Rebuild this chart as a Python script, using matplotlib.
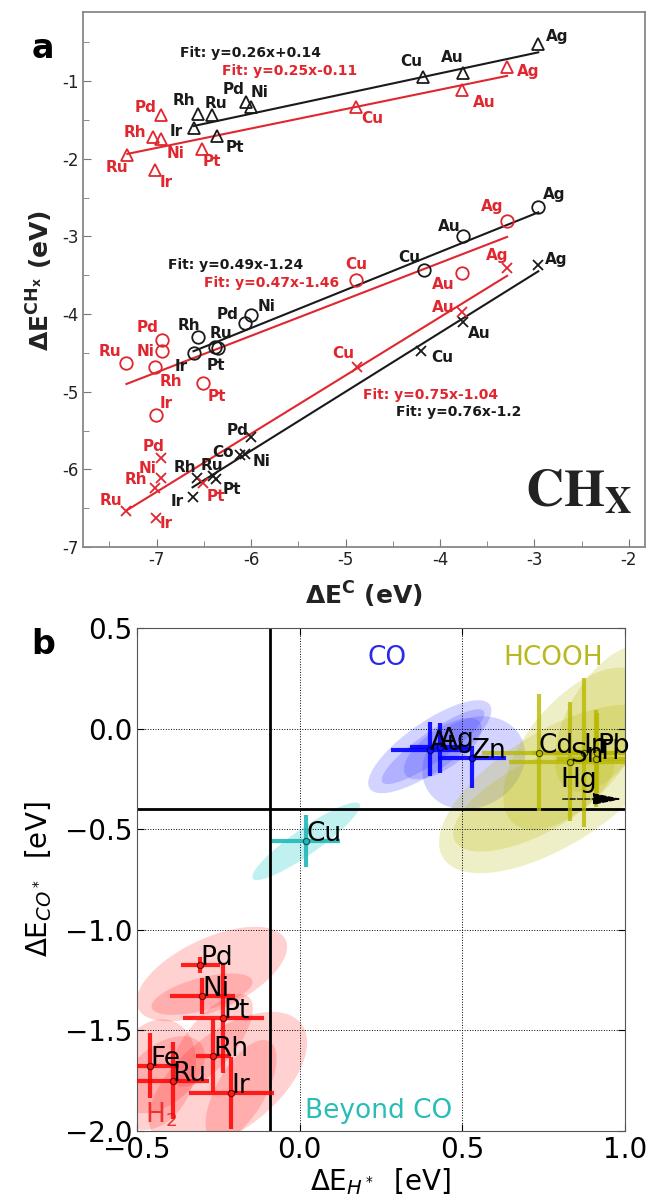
import numpy as np
import matplotlib
matplotlib.use('Agg')
import matplotlib.pyplot as plt
from matplotlib.ticker import MultipleLocator, FuncFormatter

RED = '#e0262e'
BLACK = '#1a1a1a'

# ---------------- panel a: CHx adsorption energies vs C ----------------
tri_blk_names = ['Ag', 'Au', 'Cu', 'Ni', 'Pd', 'Ru', 'Rh', 'Ir', 'Pt']
tri_blk_x = [-2.96, -3.76, -4.18, -6.00, -6.05, -6.41, -6.56, -6.61, -6.36]
tri_blk_y = [-0.52, -0.90, -0.95, -1.33, -1.27, -1.44, -1.42, -1.61, -1.71]

tri_red_names = ['Ag', 'Au', 'Cu', 'Pd', 'Rh', 'Ni', 'Pt', 'Ru', 'Ir']
tri_red_x = [-3.29, -3.77, -4.89, -6.95, -7.04, -6.95, -6.52, -7.31, -7.02]
tri_red_y = [-0.82, -1.12, -1.33, -1.44, -1.72, -1.75, -1.87, -1.95, -2.14]

cir_blk_names = ['Ag', 'Au', 'Cu', 'Ni', 'Pd', 'Rh', 'Ru', 'Pt', 'Ir']
cir_blk_x = [-2.96, -3.76, -4.17, -6.00, -6.06, -6.56, -6.38, -6.35, -6.61]
cir_blk_y = [-2.62, -3.00, -3.43, -4.01, -4.11, -4.29, -4.42, -4.44, -4.50]

cir_red_names = ['Ag', 'Au', 'Cu', 'Pd', 'Ni', 'Ru', 'Rh', 'Pt', 'Ir']
cir_red_x = [-3.29, -3.77, -4.89, -6.94, -6.94, -7.32, -7.02, -6.51, -7.01]
cir_red_y = [-2.80, -3.47, -3.56, -4.34, -4.48, -4.63, -4.68, -4.89, -5.30]

crs_blk_names = ['Ag', 'Au', 'Cu', 'Pd', 'Co', 'Ni', 'Rh', 'Ru', 'Pt', 'Ir']
crs_blk_x = [-2.96, -3.76, -4.20, -6.00, -6.12, -6.06, -6.57, -6.40, -6.37, -6.62]
crs_blk_y = [-3.37, -4.10, -4.48, -5.58, -5.82, -5.80, -6.11, -6.09, -6.12, -6.35]

crs_red_names = ['Ag', 'Au', 'Cu', 'Pd', 'Ni', 'Rh', 'Pt', 'Ru', 'Ir']
crs_red_x = [-3.29, -3.77, -4.88, -6.95, -6.95, -7.02, -6.51, -7.32, -7.01]
crs_red_y = [-3.41, -3.97, -4.68, -5.86, -6.11, -6.24, -6.18, -6.54, -6.63]

# linear fits (slope, intercept) in the same order as the series below
fit_slope = [0.26, 0.25, 0.49, 0.47, 0.76, 0.75]
fit_icpt = [0.14, -0.11, -1.24, -1.46, -1.2, -1.04]

# ---------------- panel b: H* vs CO* descriptor map ----------------
h2_names = ['Pd', 'Ni', 'Pt', 'Rh', 'Fe', 'Ru', 'Ir']
h2_x = [-0.305, -0.30, -0.235, -0.265, -0.46, -0.39, -0.21]
h2_y = [-1.175, -1.33, -1.44, -1.625, -1.675, -1.75, -1.81]
h2_xerr = [0.06, 0.10, 0.125, 0.055, 0.09, 0.11, 0.13]
h2_yerr = [0.04, 0.09, 0.27, 0.18, 0.16, 0.19, 0.18]

co_names = ['Au', 'Ag', 'Zn']
co_x = [0.40, 0.43, 0.53]
co_y = [-0.105, -0.09, -0.147]
co_xerr = [0.12, 0.09, 0.105]
co_yerr_lo = [0.13, 0.13, 0.15]
co_yerr_hi = [0.14, 0.12, 0.06]

cu_x, cu_y, cu_xerr, cu_yerr = 0.02, -0.56, 0.105, 0.13

fa_names = ['Cd', 'Sn', 'In', 'Tl', 'Pb']
fa_x = [0.735, 0.832, 0.873, 0.911, 0.915]
fa_y = [-0.12, -0.165, -0.12, -0.15, -0.12]
fa_xerr = [0.175, 0.19, 0.16, 0.12, 0.14]
fa_yerr = [0.29, 0.295, 0.37, 0.24, 0.20]

# spread of the estimates: centre, long axis, short axis, tilt (deg on screen)
red_blob = dict(x=[-0.27, -0.22, -0.30, -0.42, -0.27, -0.45, -0.18],
                y=[-1.22, -1.75, -1.32, -1.72, -1.55, -1.72, -1.80],
                L=[0.50, 0.57, 0.32, 0.30, 0.35, 0.35, 0.35],
                T=[0.22, 0.30, 0.10, 0.18, 0.15, 0.25, 0.15],
                tilt=[25, 38, 15, 40, 50, 70, 60])
blue_blob = dict(x=[0.40, 0.41, 0.535, 0.44], y=[-0.09, -0.09, -0.17, -0.10],
                 L=[0.45, 0.38, 0.33, 0.28], T=[0.15, 0.09, 0.27, 0.12],
                 tilt=[35, 35, 30, 35])
cyan_blob = dict(x=[0.02], y=[-0.56], L=[0.40], T=[0.08], tilt=[35])
olive_blob = dict(x=[0.78, 0.85, 0.72, 0.95], y=[-0.30, -0.10, -0.35, 0.05],
                  L=[0.80, 0.60, 0.55, 0.50], T=[0.35, 0.30, 0.22, 0.25],
                  tilt=[32, 50, 28, 60])

# label offsets for panel a (pixels, dx, dy)
offs = [
    {'Ag': (19, 7), 'Au': (-10, 16), 'Cu': (-12, 16), 'Ni': (8, 14), 'Pd': (-13, 13),
     'Ru': (4, 12), 'Rh': (-14, 13), 'Ir': (-17, -3), 'Pt': (18, -11)},
    {'Ag': (21, -4), 'Au': (22, -12), 'Cu': (16, -12), 'Pd': (-16, 8), 'Rh': (-18, 5),
     'Ni': (14, -14), 'Pt': (10, -13), 'Ru': (-10, -13), 'Ir': (11, -13)},
    {'Ag': (16, 12), 'Au': (-13, 10), 'Cu': (-15, 12), 'Ni': (15, 8), 'Pd': (-18, 8),
     'Rh': (-9, 11), 'Ru': (6, 13), 'Pt': (-2, -17), 'Ir': (-12, -14)},
    {'Ag': (-15, 14), 'Au': (-19, -12), 'Cu': (0, 15), 'Pd': (-15, 13), 'Ni': (-17, 0),
     'Ru': (-17, 11), 'Rh': (16, -15), 'Pt': (14, -13), 'Ir': (10, 11)},
    {'Ag': (18, 6), 'Au': (17, -12), 'Cu': (21, -6), 'Pd': (-14, 6), 'Co': (-17, 3),
     'Ni': (16, -8), 'Rh': (-12, 10), 'Ru': (-1, 11), 'Pt': (16, -11), 'Ir': (-15, -5)},
    {'Ag': (-10, 13), 'Au': (-19, 4), 'Cu': (-14, 13), 'Pd': (-8, 12), 'Ni': (-14, 9),
     'Rh': (-19, 8), 'Pt': (13, -13), 'Ru': (-16, 11), 'Ir': (10, -5)},
]
fit_text_pos = [(-6.75, -0.64), (-6.31, -0.87), (-6.88, -3.37),
                (-6.50, -3.60), (-4.47, -5.26), (-4.82, -5.04)]

series = [
    (tri_blk_names, tri_blk_x, tri_blk_y, '^', BLACK),
    (tri_red_names, tri_red_x, tri_red_y, '^', RED),
    (cir_blk_names, cir_blk_x, cir_blk_y, 'o', BLACK),
    (cir_red_names, cir_red_x, cir_red_y, 'o', RED),
    (crs_blk_names, crs_blk_x, crs_blk_y, 'x', BLACK),
    (crs_red_names, crs_red_x, crs_red_y, 'x', RED),
]

fig = plt.figure(figsize=(6.48, 12.02), dpi=100)

# ---- panel a ----
axa = fig.add_axes([83 / 648, 1 - 547 / 1202, 562 / 648, 535 / 1202])
for i, (names, xs, ys, mk, col) in enumerate(series):
    ms = 7 if mk == 'x' else 9
    axa.plot(xs, ys, ls='none', marker=mk, ms=ms, mfc='none', mec=col, mew=1.3, zorder=3)
    xx = np.array([min(xs), max(xs)])
    axa.plot(xx, fit_slope[i] * xx + fit_icpt[i], color=col, lw=1.5, zorder=2)
    for n, x, y in zip(names, xs, ys):
        axa.annotate(n, (x, y), xytext=offs[i][n], textcoords='offset pixels',
                     ha='center', va='center', color=col, fontsize=11,
                     fontweight='bold')
    fx, fy = fit_text_pos[i]
    axa.text(fx, fy, f'Fit: y={fit_slope[i]:g}x{fit_icpt[i]:+g}', color=col,
             fontsize=10, fontweight='bold', ha='left', va='center')

axa.set_xlim(-7.78, -1.83)
axa.set_ylim(-7, -0.11)
axa.xaxis.set_major_locator(MultipleLocator(1))
axa.xaxis.set_minor_locator(MultipleLocator(0.5))
axa.yaxis.set_major_locator(MultipleLocator(1))
axa.yaxis.set_minor_locator(MultipleLocator(0.5))
intfmt = FuncFormatter(lambda v, _: f'{v:.0f}')
axa.xaxis.set_major_formatter(intfmt)
axa.yaxis.set_major_formatter(intfmt)
axa.tick_params(which='both', direction='in', color='#777777', labelsize=12,
                labelcolor='#222222')
axa.tick_params(which='major', length=6, pad=3)
axa.tick_params(which='minor', length=4)
for sp in axa.spines.values():
    sp.set_color('#888888')
    sp.set_linewidth(1.3)
axa.text(0.786, 0.075, r'$\mathbf{CH_X}$', transform=axa.transAxes, fontsize=38,
         color='#222222', math_fontfamily='stix', ha='left', va='baseline')

fig.text(40 / 648, 1 - 280 / 1202, r'ΔE$^{\mathbf{CH_x}}$ (eV)', rotation=90,
         fontsize=18, fontweight='bold', ha='center', va='center', color='#222222')
fig.text(364 / 648, 1 - 605 / 1202, r'ΔE$^{\mathbf{C}}$ (eV)', fontsize=18,
         fontweight='bold', ha='center', va='baseline', color='#222222')
fig.text(43 / 648, 1 - 48 / 1202, 'a', fontsize=24, fontweight='bold',
         ha='center', va='center')
fig.text(43 / 648, 1 - 645 / 1202, 'b', fontsize=24, fontweight='bold',
         ha='center', va='center')

# ---- panel b ----
axb = fig.add_axes([137 / 648, 1 - 1131 / 1202, 488 / 648, 503 / 1202])
axb.set_xlim(-0.5, 1.0)
axb.set_ylim(-2.0, 0.5)
# y data units per x data unit of equal screen length
k_aspect = (2.5 / 503) / (1.5 / 488)


def add_blobs(ax, b, color, alpha):
    t = np.linspace(0, 2 * np.pi, 120)
    for x, y, L, T, tl in zip(b['x'], b['y'], b['L'], b['T'], b['tilt']):
        u = 0.5 * L * np.cos(t)
        v = 0.5 * T * np.sin(t)
        a = np.radians(tl)
        ax.fill(x + u * np.cos(a) - v * np.sin(a),
                y + (u * np.sin(a) + v * np.cos(a)) * k_aspect,
                color=color, alpha=alpha, lw=0, zorder=1)


add_blobs(axb, red_blob, '#ff3030', 0.22)
add_blobs(axb, blue_blob, '#3a3aff', 0.22)
add_blobs(axb, cyan_blob, '#30d0d0', 0.3)
add_blobs(axb, olive_blob, '#b8b800', 0.22)

axb.axvline(-0.09, color='k', lw=2, zorder=2)
axb.axhline(-0.40, color='k', lw=2, zorder=2)
axb.grid(True, color='k', ls=':', lw=0.7)

eb = dict(ls='none', marker='o', ms=4.5, mew=0.8, capsize=0, elinewidth=3, zorder=4)
axb.errorbar(h2_x, h2_y, xerr=h2_xerr, yerr=h2_yerr, color='#ff1a1a',
             mec='#6a0000', ecolor=(1, 0, 0, 0.85), **eb)
axb.errorbar(co_x, co_y, xerr=co_xerr, yerr=[co_yerr_lo, co_yerr_hi], color='#1010ff',
             mec='#000060', ecolor=(0, 0, 1, 0.9), **eb)
axb.errorbar([cu_x], [cu_y], xerr=cu_xerr, yerr=cu_yerr, color='#22b5b5',
             mec='#105050', ecolor=(0.13, 0.72, 0.72, 0.9), **eb)
axb.errorbar(fa_x, fa_y, xerr=fa_xerr, yerr=fa_yerr, color='#b5b500',
             mec='#404000', mfc='none', ecolor=(0.72, 0.72, 0.0, 0.8), **eb)

for names, xs, ys in [(h2_names, h2_x, h2_y), (co_names, co_x, co_y),
                      (['Cu'], [cu_x], [cu_y]), (fa_names, fa_x, fa_y)]:
    for n, x, y in zip(names, xs, ys):
        axb.text(x, y, n, fontsize=19, color='k', zorder=5)
axb.text(0.80, -0.29, 'Hg', fontsize=19, color='k', zorder=5)
axb.annotate('', xy=(1.0, -0.35), xytext=(0.80, -0.35), zorder=5,
             arrowprops=dict(arrowstyle='-|>,head_length=1.5,head_width=0.3',
                             mutation_scale=12, color='k', lw=1, ls='--'))

axb.text(0.27, 0.35, 'CO', fontsize=19, color='#2a2ae8', ha='center', va='center')
axb.text(0.78, 0.35, 'HCOOH', fontsize=19, color='#b8b820', ha='center', va='center')
axb.text(0.015, -1.90, 'Beyond CO', fontsize=19, color='#2abcb6', ha='left', va='center')
axb.text(-0.475, -1.92, r'H$_2$', fontsize=19, color='#ee3030', ha='left', va='center')

axb.xaxis.set_major_locator(MultipleLocator(0.5))
axb.yaxis.set_major_locator(MultipleLocator(0.5))
axb.tick_params(direction='in', top=True, right=True, length=5, labelsize=20)
for sp in axb.spines.values():
    sp.set_color('#555555')
axb.set_xlabel(r'ΔE$_{H^*}$  [eV]', fontsize=20, labelpad=2)
axb.set_ylabel(r'ΔE$_{CO^*}$  [eV]', fontsize=20, labelpad=8)

fig.savefig('out.png', dpi=100)
